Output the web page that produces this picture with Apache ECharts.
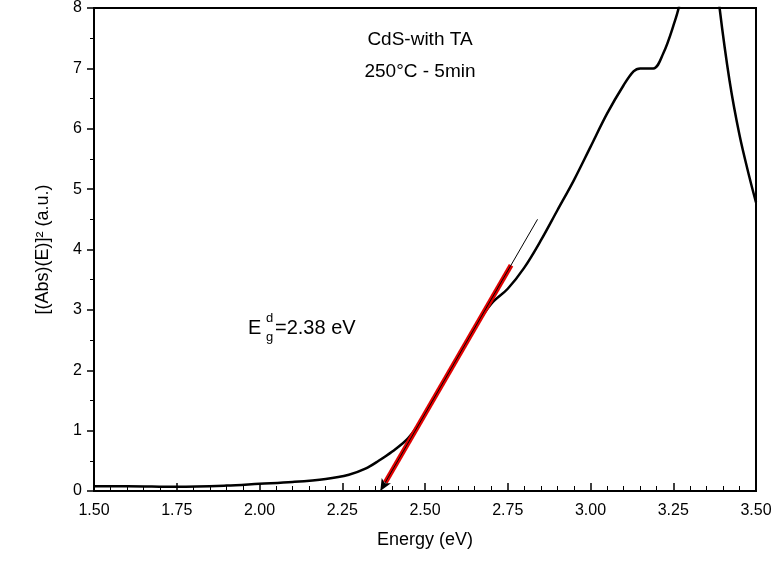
<!DOCTYPE html><html><head><meta charset="utf-8"><script src="https://cdn.jsdelivr.net/npm/echarts@6/dist/echarts.min.js"></script></head><body style="margin:0"><div id="c" style="width:776px;height:578px"></div><script>
const energy=[1.50,1.60,1.75,1.90,2.00,2.10,2.20,2.27,2.32,2.36,2.40,2.45,2.50,2.55,2.60,2.65,2.70,2.75,2.80,2.85,2.90,2.95,3.00,3.05,3.10,3.13,3.15,3.19,3.22,3.25,3.27,3.30,3.36,3.39,3.42,3.45,3.48,3.50];
const absE=[0.08,0.08,0.07,0.09,0.12,0.15,0.2,0.27,0.37,0.5,0.65,0.88,1.27,1.75,2.22,2.7,3.1,3.35,3.7,4.15,4.65,5.15,5.7,6.25,6.72,6.95,7.0,7.0,7.25,7.7,8.1,9.5,9.5,8.0,6.8,5.9,5.2,4.78];
const fitBlack=[[2.365,0],[2.84,4.5]];
const fitRed=[[2.38,0.14],[2.76,3.74]];
const c=echarts.init(document.getElementById('c'));
const F='Liberation Sans, Arial, sans-serif';
const T=(t,x,y,s,al)=>({type:'text',silent:true,style:{text:t,x:x,y:y,font:s+'px '+F,fill:'#000',align:al||'left',verticalAlign:'middle'}});
c.setOption({animation:false,
grid:{left:94,right:20,top:8,bottom:87},
xAxis:{type:'value',min:1.5,max:3.5,interval:0.25,name:'Energy (eV)',nameLocation:'middle',nameGap:40,nameTextStyle:{fontSize:18,fontFamily:F,color:'#000'},
 axisLine:{lineStyle:{color:'#000',width:2}},axisTick:{inside:true,length:8,lineStyle:{color:'#000',width:1.5}},minorTick:{show:true,splitNumber:5,length:5,lineStyle:{color:'#000'}},
 axisLabel:{fontSize:16,fontFamily:F,color:'#000',formatter:v=>v.toFixed(2),margin:12},splitLine:{show:false}},
yAxis:{type:'value',min:0,max:8,interval:1,name:'[(Abs)(E)]² (a.u.)',nameLocation:'middle',nameGap:42,nameTextStyle:{fontSize:18,fontFamily:F,color:'#000'},
 axisLine:{lineStyle:{color:'#000',width:2}},axisTick:{inside:false,length:7,lineStyle:{color:'#000',width:1.5}},minorTick:{show:true,splitNumber:2,length:4,lineStyle:{color:'#000'}},
 axisLabel:{fontSize:16,fontFamily:F,color:'#000',margin:12},splitLine:{show:false}},
graphic:[{type:'rect',silent:true,shape:{x:94,y:8,width:662,height:483},style:{fill:'none',stroke:'#000',lineWidth:2}},
 T('CdS-with TA',420,40,19,'center'),T('250°C - 5min',420,72,19,'center'),
 T('E',248,328,20),T('d',266,318,13),T('g',266,337,13),T('=2.38 eV',275,328,20)
],
series:[
{type:'line',data:energy.map((e,i)=>[e,absE[i]]),smooth:0.35,symbol:'none',clip:true,lineStyle:{color:'#000',width:2.5},z:3},
{type:'line',data:fitRed,symbol:'none',lineStyle:{color:'#e00000',width:5},z:4},
{type:'line',data:[],symbol:'none',z:5,markLine:{silent:true,symbol:['arrow','none'],symbolSize:[8,12],label:{show:false},lineStyle:{color:'#000',width:1,type:'solid'},
 data:[[{coord:fitBlack[0]},{coord:fitBlack[1]}]]}}
]});
</script></body></html>
